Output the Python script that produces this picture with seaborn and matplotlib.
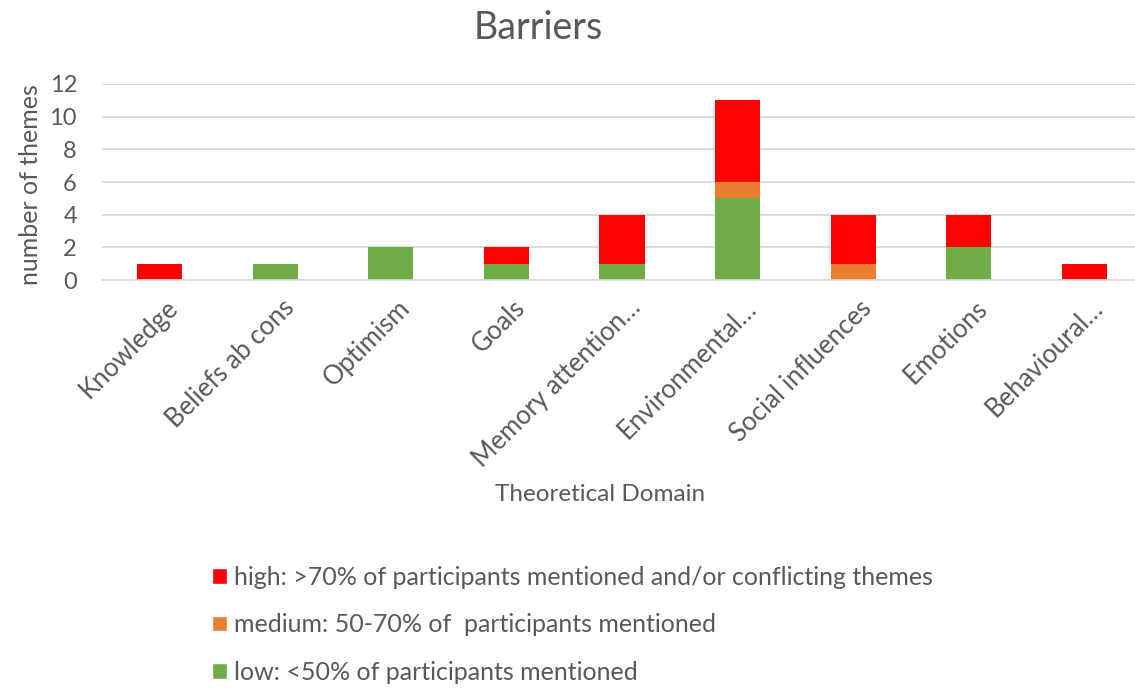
import matplotlib
matplotlib.use("Agg")
import matplotlib.pyplot as plt
import seaborn as sns
import pandas as pd
from matplotlib.patches import Patch
from matplotlib.transforms import ScaledTranslation

categories = ["Knowledge", "Beliefs ab cons", "Optimism", "Goals", "Memory attention\u2026",
              "Environmental\u2026", "Social influences", "Emotions", "Behavioural\u2026"]
low = [0, 1, 2, 1, 1, 5, 0, 2, 0]
medium = [0, 0, 0, 0, 0, 1, 1, 0, 0]
high = [1, 0, 0, 1, 3, 5, 3, 2, 1]
yticks = [0, 2, 4, 6, 8, 10, 12]
legend_labels = ["high: >70% of participants mentioned and/or conflicting themes",
                 "medium: 50-70% of  participants mentioned",
                 "low: <50% of participants mentioned"]

RED = "#FF0000"
ORANGE = "#ED7D31"
GREEN = "#70AD47"
TXT = "#595959"
GRID = "#D9D9D9"

sns.set_theme(style="white")
plt.rcParams['font.family'] = ['Lato', 'DejaVu Sans']

df = pd.DataFrame({"domain": categories, "low": low, "medium": medium, "high": high})
df["lm"] = df["low"] + df["medium"]
df["total"] = df["lm"] + df["high"]

fig = plt.figure(figsize=(11.35, 6.88), dpi=100)
ax = fig.add_axes([102 / 1135, 1 - 280 / 688, 1040 / 1135, 196 / 688])

w = 0.39
for col, c in [("total", RED), ("lm", ORANGE), ("low", GREEN)]:
    sns.barplot(data=df, x="domain", y=col, color=c, width=w, ax=ax, saturation=1,
                order=categories, linewidth=0, edgecolor="none")

ax.set_ylim(0, 12)
ax.set_xlim(-0.5, len(categories) - 0.5)
ax.set_yticks(yticks)
ax.yaxis.grid(True, color=GRID, linewidth=1.3)
ax.set_axisbelow(True)
for s in ["top", "right", "left"]:
    ax.spines[s].set_visible(False)
ax.spines["bottom"].set_color(GRID)
ax.spines["bottom"].set_linewidth(1.3)

ax.tick_params(axis="y", length=0, pad=18, labelsize=17, labelcolor=TXT)
ax.tick_params(axis="x", length=0, pad=11, labelsize=18.5, labelcolor=TXT)
ax.set_xticks(range(len(categories)))
ax.set_xticklabels(categories, rotation=45, ha="right", rotation_mode="anchor")
offset = ScaledTranslation(6 / 100, 0, fig.dpi_scale_trans)
for lbl in ax.get_xticklabels():
    lbl.set_transform(lbl.get_transform() + offset)

ax.set_xlabel("Theoretical Domain", fontsize=17.5, color=TXT)
ax.xaxis.set_label_coords(0.479, -1.04)
ax.set_ylabel("number of themes", fontsize=18, color=TXT)
ax.yaxis.set_label_coords(-0.058, 0.485)

fig.text(538 / 1135, 1 - 28 / 688, "Barriers", fontsize=27, color=TXT, ha="center", va="center")

handles = [Patch(facecolor=RED), Patch(facecolor=ORANGE), Patch(facecolor=GREEN)]
fig.legend(handles, legend_labels, loc="upper left", bbox_to_anchor=(202 / 1135, 1 - 556 / 688),
           frameon=False, fontsize=18, labelcolor=TXT, handlelength=0.6, handleheight=0.6,
           handletextpad=0.3, labelspacing=0.97, borderaxespad=0)

fig.savefig("out.png", dpi=100)
